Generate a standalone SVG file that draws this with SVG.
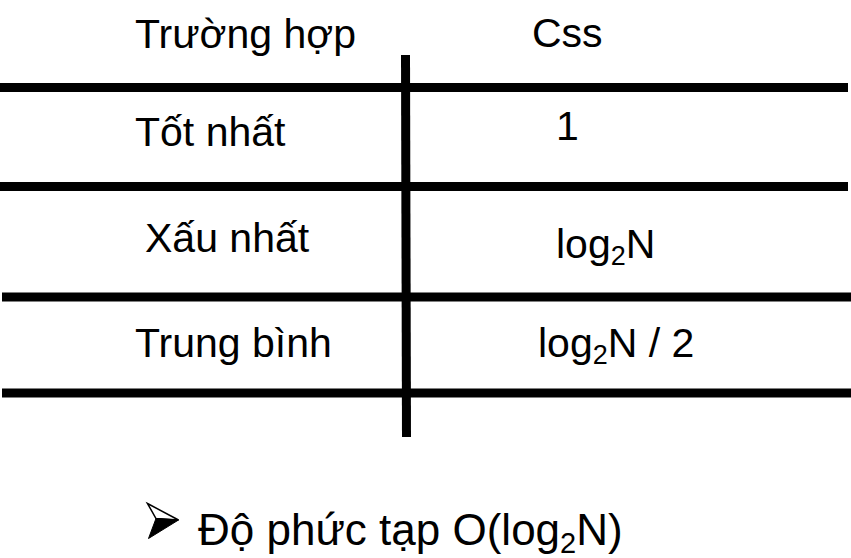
<svg xmlns="http://www.w3.org/2000/svg" width="851" height="558" viewBox="0 0 851 558">
<style>
.t{font-family:"Liberation Sans",Arial,sans-serif;font-size:41px;fill:#000}
.s{font-size:27px}
.ln{stroke:#000;stroke-width:9;fill:none}
</style>
<rect width="851" height="558" fill="#fff"/>
<g id="grid">
<line class="ln" x1="0" y1="87.5" x2="848" y2="87.5"/>
<line class="ln" x1="0" y1="186.5" x2="848" y2="186.5"/>
<line class="ln" x1="2" y1="297" x2="851" y2="297"/>
<line class="ln" x1="2" y1="393" x2="851" y2="393"/>
<line class="ln" x1="405.5" y1="55" x2="406.5" y2="437"/>
</g>
<g id="header">
<text class="t" x="135" y="48">Trường hợp</text>
<text class="t" x="532" y="47">Css</text>
</g>
<g id="row-best">
<text class="t" x="135" y="146">Tốt nhất</text>
<text class="t" x="556" y="140">1</text>
</g>
<g id="row-worst">
<text class="t" x="145" y="252">Xấu nhất</text>
<text class="t" x="556" y="258">log<tspan class="s" dy="7">2</tspan><tspan dy="-7">N</tspan></text>
</g>
<g id="row-avg">
<text class="t" x="135" y="357">Trung bình</text>
<text class="t" x="538" y="357">log<tspan class="s" dy="7">2</tspan><tspan dy="-7">N / 2</tspan></text>
</g>
<g id="conclusion">
<polygon points="147.5,503.5 178.5,520 156,518.5" fill="#fff" stroke="#000" stroke-width="1.5" stroke-linejoin="miter"/>
<polygon points="156,518.5 178.5,520 148.5,538.5" fill="#000" stroke="#000" stroke-width="1"/>
<text class="t" x="198" y="545" style="font-size:44px">Độ phức tạp O(log<tspan class="s" dy="8" style="font-size:29px">2</tspan><tspan dy="-8">N)</tspan></text>
</g>
</svg>
